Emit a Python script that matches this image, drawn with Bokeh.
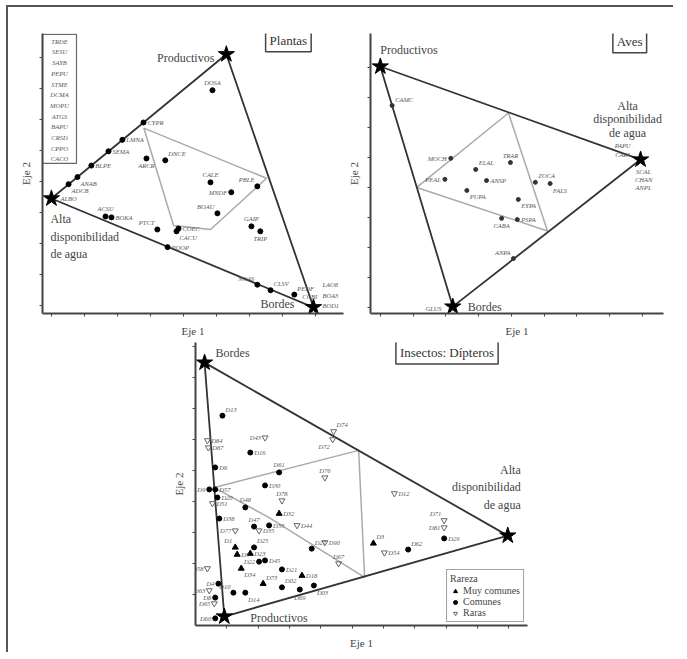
import numpy as np
from bokeh.plotting import figure
from bokeh.models import (Label, FixedTicker, ColumnDataSource, Legend, LegendItem, Spacer)
from bokeh.layouts import row, column
from bokeh.embed import file_html
from bokeh.resources import INLINE
from bokeh.core.properties import value

SERIF = "Liberation Serif"

# ---------------- DATA ----------------
# Plantas
pl_star_x = [5.30, 0.00, 7.94]          # Productivos, Alta disponibilidad, Bordes
pl_star_y = [8.10, 3.45, -0.06]
pl_grey_x = [2.80, 6.52, 4.82, 3.70]
pl_grey_y = [5.72, 4.10, 2.45, 2.58]
pl_names = ["CYPR", "LMNA", "SEMA", "BLPE", "ANAB", "ADCB",
            "DOSA", "ARCR", "DNCE", "CALE", "MNDF", "PBLE", "BOAU", "GAIP", "TRIP",
            "ACSU", "BOKA", "PTCT", "COEC", "CACU", "POOP", "NOAS", "CLSV", "PEDF"]
pl_x = [2.79, 2.15, 1.73, 1.21, 0.79, 0.52,
        4.88, 2.88, 3.45, 4.82, 5.45, 6.24, 5.03, 6.06, 6.33,
        1.64, 1.82, 3.21, 3.85, 3.79, 3.52, 6.24, 6.64, 7.36]
pl_y = [5.90, 5.34, 4.97, 4.51, 4.14, 3.91,
        6.94, 4.74, 4.68, 3.97, 3.65, 3.84, 2.97, 2.55, 2.39,
        2.87, 2.84, 2.45, 2.48, 2.39, 1.88, 0.67, 0.49, 0.35]
pl_side = ["r", "r", "r", "r", "br", "br",
           "a", "b", "ar", "a", "l", "al", "al", "a", "b",
           "a", "r", "al", "r", "br", "r", "al", "ar", "ar"]
pl_list = ["TRDE", "SESU", "SAYB", "PEPU", "STME", "DCMA",
           "MOPU", "ATGS", "BAPU", "CRSD", "CPPO", "CACO"]

# Aves
av_star_x = [0.00, 7.94, 2.21]          # Productivos, Alta disponibilidad, Bordes
av_star_y = [8.03, 4.93, 0.03]
av_grey_x = [1.11, 3.91, 5.10]
av_grey_y = [4.00, 6.48, 2.55]
av_names = ["CAMC", "MOCH", "ELAL", "TRAR", "PEAL", "ANSP", "PUPA",
            "ZOCA", "FALS", "EYPA", "CABA", "PSPA", "ANPA"]
av_x = [0.36, 2.15, 2.91, 3.97, 1.97, 3.24, 2.64, 4.73, 5.18, 4.21, 3.70, 4.18, 4.06]
av_y = [6.73, 4.97, 4.60, 4.83, 4.27, 4.23, 3.90, 4.17, 4.13, 3.60, 2.97, 2.93, 1.63]
av_side = ["ar", "l", "ar", "a", "l", "r", "br", "ar", "br", "br", "b", "r", "al"]

# Insectos: Dipteros
in_star_x = [0.29, 9.97, 0.92]          # Bordes, Alta disponibilidad, Productivos
in_star_y = [8.48, 2.90, 0.29]
in_grey_x = [0.60, 5.21, 5.40, 2.35]
in_grey_y = [4.45, 5.65, 1.55, 3.48]
# Muy comunes
mc_names = ["D32", "D1", "D5", "D23", "D34", "D18", "D73", "D3"]
mc_x = [2.67, 1.27, 1.33, 1.75, 1.46, 3.40, 2.16, 5.68]
mc_y = [3.61, 2.52, 2.29, 2.32, 1.84, 1.61, 1.35, 2.65]
mc_side = ["r", "al", "r", "r", "br", "r", "ar", "ar"]
# Comunes
co_names = ["D13", "D16", "D61", "D30", "D48", "D33", "D47", "D6", "D9", "D57", "D20",
            "D38", "D25", "D45", "D22", "D21", "D27", "D02", "D03", "D69", "D14", "D10",
            "D4", "D8", "D62", "D29", "D60"]
co_x = [0.86, 1.75, 2.67, 2.22, 1.59, 2.35, 1.87, 0.63, 0.44, 0.63, 0.70,
        0.76, 1.87, 2.22, 2.03, 2.76, 3.71, 2.76, 3.78, 3.33, 1.59, 1.21,
        0.73, 0.63, 6.79, 7.94, 0.63]
co_y = [6.77, 5.58, 4.94, 4.52, 3.81, 3.23, 3.19, 5.10, 4.39, 4.39, 4.13,
        3.45, 2.52, 2.10, 2.06, 1.81, 2.48, 1.23, 1.29, 1.16, 1.06, 1.06,
        1.35, 0.90, 2.45, 2.81, 0.23]
co_side = ["ar", "r", "a", "r", "a", "r", "a", "r", "l", "r", "r",
           "r", "ar", "r", "l", "r", "ar", "ar", "br", "b", "br", "al",
           "l", "l", "ar", "r", "l"]
# Raras
ra_names = ["D43", "D74", "D72", "D76", "D12", "D78", "D44", "D51", "D77", "D35",
            "D90", "D67", "D54", "D71", "D81", "D84", "D87", "D58", "D63", "D65"]
ra_x = [2.22, 4.41, 4.38, 4.13, 6.35, 2.76, 3.24, 0.54, 1.27, 2.03,
        4.13, 4.57, 6.03, 7.94, 7.94, 0.38, 0.41, 0.38, 0.44, 0.60]
ra_y = [6.06, 6.26, 6.00, 4.77, 4.26, 4.03, 3.23, 3.94, 3.06, 3.06,
        2.68, 2.00, 2.35, 3.39, 3.16, 5.97, 5.74, 1.84, 1.13, 0.71]
ra_side = ["l", "ar", "bl", "a", "r", "a", "r", "r", "l", "r",
           "r", "a", "r", "al", "l", "r", "r", "l", "l", "l"]

# ---------------- STYLE HELPERS ----------------
OFF = {"r": (4, 0, "left", "middle"), "l": (-4, 0, "right", "middle"),
       "a": (0, -4, "center", "bottom"), "b": (0, 4, "center", "top"),
       "ar": (3, -3, "left", "bottom"), "al": (-3, -3, "right", "bottom"),
       "br": (3, 3, "left", "top"), "bl": (-3, 3, "right", "top")}
LINE = "#333333"
GREY = "#aaaaaa"
LBL = "#555555"


def make_fig(w, h, xr, yr, bl, br, bt, bb, xt, yt):
    p = figure(width=w, height=h, x_range=xr, y_range=yr,
               min_border_left=bl, min_border_right=br, min_border_top=bt, min_border_bottom=bb,
               toolbar_location=None, output_backend="svg")
    p.xgrid.visible = False
    p.ygrid.visible = False
    p.outline_line_color = None
    for ax in (p.xaxis[0], p.yaxis[0]):
        ax.axis_line_width = 2
        ax.axis_line_color = "#444444"
        ax.major_tick_line_color = "#444444"
        ax.major_tick_in = 0
        ax.major_tick_out = 3
        ax.minor_tick_line_color = None
        ax.major_label_text_font_size = "1px"
        ax.major_label_standoff = 0
        ax.axis_label_text_font = SERIF
        ax.axis_label_text_font_style = "normal"
        ax.axis_label_text_font_size = "11px"
        ax.axis_label_text_color = "#444444"
    p.xaxis.ticker = FixedTicker(ticks=xt)
    p.yaxis.ticker = FixedTicker(ticks=yt)
    p.xaxis.major_label_overrides = {t: "" for t in xt}
    p.yaxis.major_label_overrides = {t: "" for t in yt}
    p.xaxis.axis_label = "Eje 1"
    p.yaxis.axis_label = "Eje 2"
    p.xaxis.axis_label_standoff = 8
    p.yaxis.axis_label_standoff = 8
    return p


def add_labels(p, xs, ys, names, sides, size="6.5px"):
    src = ColumnDataSource(dict(x=xs, y=ys, t=names,
                                dx=[OFF[s][0] for s in sides], dy=[OFF[s][1] for s in sides],
                                al=[OFF[s][2] for s in sides], bl=[OFF[s][3] for s in sides]))
    p.text("x", "y", text="t", x_offset="dx", y_offset="dy", text_align="al",
           text_baseline="bl", source=src, text_font=value(SERIF), text_font_style="italic",
           text_font_size=size, text_color=LBL)


def star_text(p, x, y, txt, dx, dy, align, base, size="12px", lh=1.2, italic=False, color="#444444"):
    p.text(x=[x], y=[y], text=[txt], x_offset=dx, y_offset=dy, text_align=align,
           text_baseline=base, text_font=value(SERIF), text_font_size=size,
           text_font_style="italic" if italic else "normal", text_line_height=lh, text_color=color)


def triangle(p, sx, sy):
    p.line(sx + [sx[0]], sy + [sy[0]], line_color=LINE, line_width=1.8)


def title_box(p, x, y, txt):
    p.add_layout(Label(x=x, y=y, text=txt, text_align="center", text_baseline="middle",
                       text_font=SERIF, text_font_size="13px", text_color="#333333",
                       border_line_color="#444444", border_line_width=1.5,
                       background_fill_color="white", padding=4))


# ---------------- PLANTAS ----------------
p1 = make_fig(336, 333, (-0.27, 8.85), (-0.26, 8.77), 34, 1, 26, 27,
              list(range(0, 9)), list(range(0, 9)))
p1.patch(pl_grey_x, pl_grey_y, fill_color=None, line_color=GREY, line_width=1.5)
triangle(p1, pl_star_x, pl_star_y)
p1.scatter(pl_x, pl_y, marker="circle", size=5, color="black")
add_labels(p1, pl_x, pl_y, pl_names, pl_side)
p1.scatter(pl_star_x, pl_star_y, marker="star", size=17, color="black")
star_text(p1, pl_star_x[0], pl_star_y[0], "Productivos", -12, 4, "right", "middle")
star_text(p1, pl_star_x[1], pl_star_y[1], "Alta\ndisponibilidad\nde agua", -1, 14, "left", "top", lh=1.25)
star_text(p1, pl_star_x[1], pl_star_y[1], "ALBO", 9, 0, "left", "middle", size="6.5px", italic=True, color=LBL)
star_text(p1, pl_star_x[2], pl_star_y[2], "Bordes", -19, -3, "right", "middle")
star_text(p1, pl_star_x[2], pl_star_y[2], "LAO8\nBOA3\nBOD1", 9, 2, "left", "bottom", size="6.5px", lh=1.5, italic=True, color=LBL)
star_text(p1, 7.36, 0.35, "CCBI", 8, 2, "left", "middle", size="6.5px", italic=True, color=LBL)
# species list box
p1.quad(left=-0.27, right=0.76, top=8.74, bottom=4.58, fill_color="white", line_color="#666666", line_width=1.2)
list_y = list(8.52 - 0.345 * np.arange(len(pl_list)))
p1.text(x=[0.245] * len(pl_list), y=list_y, text=pl_list, text_align="center", text_baseline="middle",
        text_font=value(SERIF), text_font_style="italic", text_font_size="6.5px", text_color=LBL)
title_box(p1, 7.18, 8.55, "Plantas")

# ---------------- AVES ----------------
p2 = make_fig(329, 333, (-0.30, 8.64), (-0.20, 9.13), 24, 10, 26, 27,
              list(range(0, 9)), list(range(0, 9)))
p2.patch(av_grey_x, av_grey_y, fill_color=None, line_color=GREY, line_width=1.5)
triangle(p2, av_star_x, av_star_y)
p2.scatter(av_x, av_y, marker="circle", size=4, color="#333333")
add_labels(p2, av_x, av_y, av_names, av_side)
p2.scatter(av_star_x, av_star_y, marker="star", size=17, color="black")
star_text(p2, av_star_x[0], av_star_y[0], "Productivos", 0, -10, "left", "bottom")
star_text(p2, av_star_x[1], av_star_y[1], "Alta\ndisponibilidad\nde agua", -13, -20, "center", "bottom", lh=0.95)
star_text(p2, av_star_x[1], av_star_y[1], "PAPU\nCAPA", -10, -2, "right", "bottom", size="6.5px", lh=1.2, italic=True, color=LBL)
star_text(p2, av_star_x[1], av_star_y[1], "SCAL\nCHAN\nANPL", 3, 8, "center", "top", size="6.5px", lh=1.2, italic=True, color=LBL)
star_text(p2, av_star_x[2], av_star_y[2], "Bordes", 15, 0, "left", "middle")
star_text(p2, av_star_x[2], av_star_y[2], "GLUS", -11, 2, "right", "middle", size="6.5px", italic=True, color=LBL)
title_box(p2, 7.61, 8.87, "Aves")

# ---------------- INSECTOS ----------------
p3 = make_fig(368, 312, (0.0, 10.6), (0.0, 9.13), 24, 10, 2, 27,
              list(range(1, 11)), list(range(1, 10)))
p3.patch(in_grey_x, in_grey_y, fill_color=None, line_color=GREY, line_width=1.5)
triangle(p3, in_star_x, in_star_y)
r_mc = p3.scatter(mc_x, mc_y, marker="triangle", size=6, color="black")
r_co = p3.scatter(co_x, co_y, marker="circle", size=5, color="black")
r_ra = p3.scatter(ra_x, ra_y, marker="inverted_triangle", size=6, fill_color=None,
                  line_color="#666666", line_width=1)
add_labels(p3, mc_x, mc_y, mc_names, mc_side)
add_labels(p3, co_x, co_y, co_names, co_side)
add_labels(p3, ra_x, ra_y, ra_names, ra_side)
p3.scatter(in_star_x, in_star_y, marker="star", size=17, color="black")
star_text(p3, in_star_x[0], in_star_y[0], "Bordes", 11, -10, "left", "middle")
star_text(p3, in_star_x[1], in_star_y[1], "Alta\ndisponibilidad\nde agua", 13, -24, "right", "bottom", lh=1.25)
star_text(p3, in_star_x[2], in_star_y[2], "Productivos", 26, 1, "left", "middle")
title_box(p3, 8.03, 8.81, "Insectos: Dípteros")
legend = Legend(items=[LegendItem(label="Muy comunes", renderers=[r_mc]),
                       LegendItem(label="Comunes", renderers=[r_co]),
                       LegendItem(label="Raras", renderers=[r_ra])],
                title="Rareza", location="bottom_right")
legend.label_text_font = SERIF
legend.label_text_font_size = "10px"
legend.label_text_color = "#444444"
legend.title_text_font = SERIF
legend.title_text_font_size = "10px"
legend.title_text_font_style = "normal"
legend.title_text_color = "#444444"
legend.border_line_color = "#444444"
legend.border_line_width = 1.5
legend.padding = 3
legend.spacing = 0
legend.glyph_width = 10
legend.glyph_height = 10
legend.label_height = 10
legend.label_standoff = 3
legend.title_standoff = 1
legend.margin = 3
p3.add_layout(legend)

layout = column(row(p1, p2), row(Spacer(width=161, height=312), p3),
                styles={"margin-left": "6px", "margin-top": "5px",
                        "border-top": "2px solid #555", "border-left": "2px solid #555"})

open("out.html", "w").write(file_html(layout, INLINE))
